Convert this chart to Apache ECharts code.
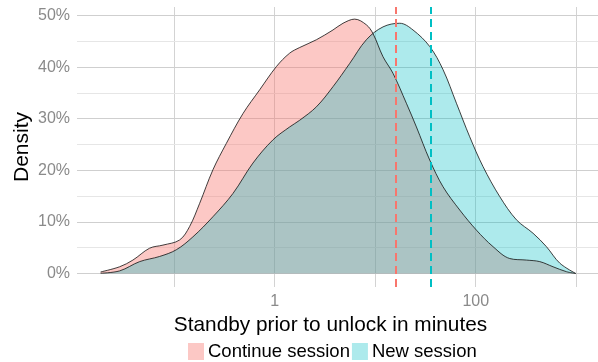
<!DOCTYPE html>
<html><head><meta charset="utf-8">
<script src="https://cdn.jsdelivr.net/npm/echarts@6/dist/echarts.min.js"></script>
<style>html,body{margin:0;padding:0;background:#fff}#c{width:598px;height:362px}</style>
</head><body><div id="c"></div>
<script>
// x values are log10(minutes)
const continueX = [-1.731,-1.542,-1.410,-1.244,-1.111,-0.945,-0.846,-0.746,-0.614,-0.481,-0.315,-0.149,0.017,0.149,0.249,0.415,0.580,0.680,0.796,0.912,0.978,1.078,1.177,1.310,1.410,1.542,1.675,1.841,2.007,2.172,2.338,2.504,2.637,2.769,2.902,2.995];
const continueY = [0.003,0.013,0.026,0.049,0.055,0.065,0.091,0.136,0.201,0.252,0.310,0.356,0.401,0.427,0.438,0.453,0.472,0.485,0.493,0.482,0.465,0.420,0.388,0.330,0.284,0.220,0.168,0.123,0.084,0.052,0.029,0.026,0.023,0.013,0.0035,0];
const newX = [-1.731,-1.542,-1.343,-1.144,-0.978,-0.813,-0.614,-0.415,-0.216,-0.017,0.149,0.249,0.415,0.580,0.746,0.912,1.078,1.244,1.376,1.542,1.675,1.808,1.940,2.073,2.239,2.405,2.570,2.703,2.836,2.995];
const newY = [0.0005,0.005,0.023,0.033,0.046,0.071,0.110,0.155,0.214,0.259,0.284,0.297,0.323,0.362,0.407,0.453,0.478,0.485,0.472,0.440,0.395,0.330,0.265,0.207,0.149,0.104,0.078,0.052,0.020,0];
const seriesNames = ['Continue session','New session'];
const meanLog = [1.197, 1.552];           // dashed lines, log10(minutes)
const xTickLabels = [0, 2];               // log10 of 1 and 100
const xGrid = [-1, 0, 1, 2, 3];
const yMajor = [0,0.1,0.2,0.3,0.4,0.5];
const yMinor = [0.05,0.15,0.25,0.35,0.45];

const fills = ['rgba(248,118,109,0.4)','rgba(0,191,196,0.32)'];
const strokes = ['#F8766D','#00BFC4'];

const gridLines = [];
xGrid.forEach(v=>gridLines.push({xAxis:v, lineStyle:{color:'#d3d3d3',width:1,type:'solid'}}));
yMajor.forEach(v=>gridLines.push({yAxis:v, lineStyle:{color:'#cfcfcf',width:1,type:'solid'}}));
yMinor.forEach(v=>gridLines.push({yAxis:v, lineStyle:{color:'#e6e6e6',width:1,type:'solid'}}));

function mk(xs, ys){ return xs.map((x,i)=>[x, ys[i]]); }

const chart = echarts.init(document.getElementById('c'));
chart.setOption({
  animation:false,
  textStyle:{fontFamily:'Liberation Sans'},
  grid:{left:77,right:-2,top:7,bottom:75,containLabel:false,outerBoundsMode:'none'},
  xAxis:{type:'value',min:-1.966,max:3.236,
    axisLine:{show:false},axisTick:{show:false},splitLine:{show:false},
    axisLabel:{customValues:xTickLabels,color:'#8a8a8a',fontSize:16,margin:7,
      formatter:v=>String(Math.round(Math.pow(10,v)))},
    name:'Standby prior to unlock in minutes',nameLocation:'middle',nameGap:27,
    nameTextStyle:{color:'#000',fontSize:20.8,padding:[0,16,0,0]}},
  yAxis:{type:'value',min:-0.0262,max:0.5165,
    axisLine:{show:false},axisTick:{show:false},splitLine:{show:false},
    axisLabel:{customValues:yMajor,color:'#8a8a8a',fontSize:16,margin:7,
      formatter:v=>Math.round(v*100)+'%'},
    name:'Density',nameLocation:'middle',nameGap:44,nameRotate:90,nameMoveOverlap:false,
    nameTextStyle:{color:'#000',fontSize:21}},
  legend:{top:342,left:188,padding:0,icon:'rect',itemWidth:16,itemHeight:17,itemGap:2,
    textStyle:{color:'#000',fontSize:18.5,padding:[0,0,0,-1]},
    data:seriesNames.map((n,i)=>({name:n,itemStyle:{color:fills[i],borderWidth:0}})),
    selectedMode:false},
  series:[
    {type:'line',name:'grid',data:[],z:0,silent:true,
      markLine:{silent:true,symbol:'none',label:{show:false},z:0,data:gridLines}},
    {type:'line',name:seriesNames[0],data:mk(continueX,continueY),smooth:0.35,symbol:'none',z:2,
      itemStyle:{color:fills[0]},lineStyle:{color:'#111',width:0.8},areaStyle:{color:fills[0],opacity:1}},
    {type:'line',name:seriesNames[1],data:mk(newX,newY),smooth:0.35,symbol:'none',z:2,
      itemStyle:{color:fills[1]},lineStyle:{color:'#111',width:0.8},areaStyle:{color:fills[1],opacity:1},
      markLine:{silent:true,symbol:'none',label:{show:false},z:3,
        data:meanLog.map((v,i)=>({xAxis:v,lineStyle:{color:strokes[i],width:2,type:[8,5]}}))}}
  ]
});
</script></body></html>
